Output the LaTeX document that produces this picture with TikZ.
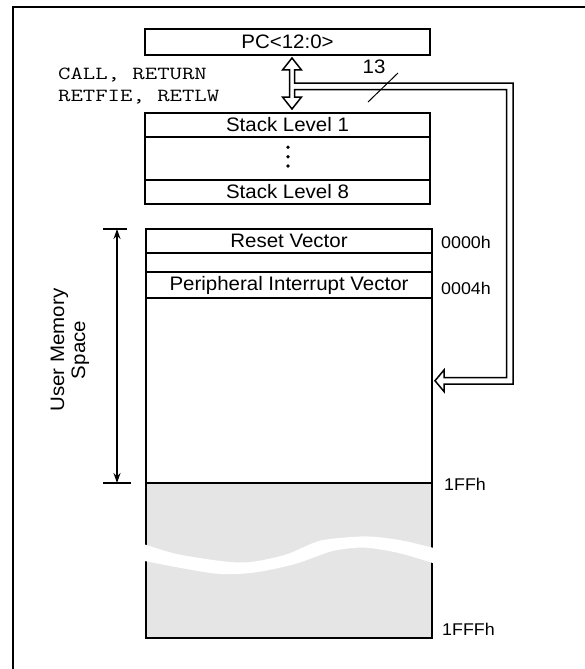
\documentclass[tikz,border=0pt]{standalone}
\usepackage{fontspec}
\setmainfont{Liberation Sans}[FakeStretch=1.05]
\newfontfamily\codefont{Latin Modern Mono}[FakeStretch=1.3]
\usetikzlibrary{arrows.meta}
\usetikzlibrary{positioning}
\definecolor{romgray}{RGB}{229,229,229}
\tikzset{
  rowbox/.style={draw, line width=1.9pt, outer sep=0pt, inner sep=0pt, minimum width=285pt, font=\fontsize{19.5}{22}\selectfont},
  addr/.style={anchor=west, inner sep=0pt, font=\fontsize{17}{20}\selectfont},
  hollow/.style={draw, fill=white, line width=1.5pt, line join=miter},
  dimline/.style={line width=1.4pt},
}
\begin{document}
\begin{tikzpicture}[x=1pt, y=-1pt]
    \useasboundingbox (0,0) rectangle (585,669);
    \draw [line width=2.2pt] (13,669) -- (13,7) -- (585,7);

    % program counter and stack
    \node [rowbox, minimum height=26pt] (pc) at (287.5,42) {PC<12:0>};
    \node [rowbox, minimum height=24pt] (stack1) at (287.5,125) {Stack Level 1};
    \node [rowbox, minimum height=43pt, below=0pt of stack1] (stackdots) {};
    \node [rowbox, minimum height=24pt, below=0pt of stackdots] (stack8) {Stack Level 8};
    \foreach \y in {147.3,156.7,166}
        \fill (288,\y) circle (1.9pt);

    % program memory
    \node [rowbox, minimum width=286pt, minimum height=24pt] (reset) at (289,241) {Reset Vector};
    \node [rowbox, minimum width=286pt, minimum height=19pt, below=0pt of reset] (gaprow) {};
    \node [rowbox, minimum width=286pt, minimum height=26pt, below=0pt of gaprow] (periph) {Peripheral Interrupt Vector};
    \node [rowbox, minimum width=286pt, minimum height=185pt, below=0pt of periph] (usermem) {};
    \node [rowbox, minimum width=286pt, minimum height=155pt, fill=romgray, below=0pt of usermem] (unused) {};
    \draw [line width=2.6pt] (periph.south west) -- (periph.south east);

    % break in the unimplemented part
    \fill [white] plot [smooth] coordinates {(142,543.5) (176.7,554) (226.7,561.7) (253,561.7) (286.7,554.3) (320,540.7) (356.7,536.7) (376.7,537) (403,540.7) (436,548.5)}
        -- plot [smooth] coordinates {(436,564) (400,553.3) (370,548) (353,548) (330,551.7) (295,564) (253,572.7) (213,573.3) (142,560.5)} -- cycle;

    \node [addr] (addr0) at (441,242) {0000h};
    \node [addr] (addr4) at (441,288) {0004h};
    \node [addr] (addrend) at (444,484) {1FFh};
    \node [addr] (addrtop) at (442,629) {1FFFh};

    % user memory span
    \coordinate (umtop) at (117,229);
    \coordinate (umbot) at (117,483);
    \draw [dimline] ([xshift=-14pt]umtop) -- ([xshift=10pt]umtop);
    \draw [dimline] ([xshift=-14pt]umbot) -- ([xshift=14pt]umbot);
    \draw [dimline, {Stealth[length=10pt,width=7pt]}-{Stealth[length=10pt,width=7pt]}] (umtop) -- (umbot);
    \node [rotate=90, align=center, font=\fontsize{19.5}{21}\selectfont] (umlabel) at (70,350) {User Memory\\Space};

    % push/pop arrow and 13-bit bus
    \draw [hollow] (292,58) -- (301.5,70) -- (294.5,70) -- (294.5,83) -- (513,83) -- (513,384)
        -- (444,384) -- (444,391.5) -- (435,380.75) -- (444,370) -- (444,377.5) -- (506.5,377.5)
        -- (506.5,89.5) -- (294.5,89.5) -- (294.5,97) -- (301.5,97) -- (292,109) -- (282.5,97)
        -- (289.5,97) -- (289.5,70) -- (282.5,70) -- cycle;
    \draw [line width=1pt] (368,102) -- (398,73);
    \node [inner sep=0pt, font=\fontsize{19.5}{22}\selectfont] (buswidth) at (374,67) {13};

    \node [anchor=west, align=left, inner sep=0pt, font=\codefont\fontsize{18.5}{22}\selectfont] (ops) at (58,86) {CALL, RETURN\\RETFIE, RETLW};
\end{tikzpicture}
\end{document}
